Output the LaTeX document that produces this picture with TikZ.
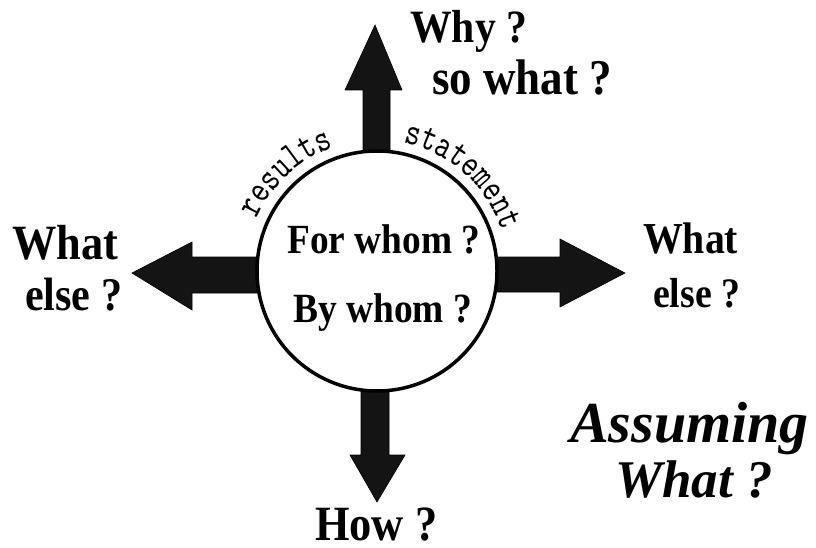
\documentclass[tikz,border=0pt]{standalone}
\usepackage{fontspec}
\setmainfont[FakeStretch=0.9]{Liberation Serif}
\newfontfamily\plainserif{Liberation Serif}
\newfontfamily\curvemono[FakeStretch=0.75,Extension=.otf]{lmmono10-regular}
\usetikzlibrary{decorations.text}
\newcommand\curvefont{\curvemono\fontsize{39}{39}\selectfont}
\newcommand\fs[1]{\fontsize{#1}{#1}\selectfont}
\tikzset{
  lbl/.style={inner sep=0pt, anchor=base west},
  bigarrow/.style={fill=black!92, draw=black, line width=0.6pt},
  ring/.style={draw, circle, minimum size=240pt, line width=3.5pt, fill=white, inner sep=0pt},
  curved/.style={decorate, decoration={text along path, text align=center, text={|\curvefont|#1}}}
}
\begin{document}
\begin{tikzpicture}[x=1pt,y=1pt]
\useasboundingbox (0,0) rectangle (816,547);
\coordinate (c) at (377,276);
% arrows
\path[bigarrow] (363,276) -- (363,457) -- (345,457) -- (375,522) -- (402,457) -- (390,457) -- (390,276) -- cycle;
\path[bigarrow] (361,276) -- (361,92) -- (350,92) -- (377,45) -- (405,92) -- (389,92) -- (389,276) -- cycle;
\path[bigarrow] (377,290) -- (192,290) -- (192,305) -- (132,274) -- (192,237) -- (192,254) -- (377,254) -- cycle;
\path[bigarrow] (377,290) -- (560,290) -- (560,308) -- (625,274) -- (560,240) -- (560,255) -- (377,255) -- cycle;
% circle
\node[ring] (circ) at (c) {};
% curved labels
\path[curved={results}]
  ([shift={(c)}]173:131) arc[start angle=173, end angle=93, radius=131];
\path[curved={statement}]
  ([shift={(c)}]88:131) arc[start angle=88, end angle=8, radius=131];
% inner texts
\node[lbl, font=\bfseries\fs{41.5}] (for) at (287,294) {For whom ?};
\node[lbl, font=\bfseries\fs{41.6}] (by) at (293,225) {By whom ?};
% outer texts
\node[lbl, font=\bfseries\fs{46.3}] (why) at (410,504) {Why ?};
\node[lbl, font=\bfseries\fs{50}] (sowhat) at (432,452) {so what ?};
\node[lbl, font=\bfseries\fs{49.3}] (lwhat) at (12,288) {What};
\node[lbl, font=\bfseries\fs{46.8}] (lelse) at (25,237) {else ?};
\node[lbl, font=\bfseries\fs{44.2}] (rwhat) at (643,294) {What};
\node[lbl, font=\bfseries\fs{42}] (relse) at (653,240) {else ?};
\node[lbl, font=\bfseries\fs{49.3}] (how) at (315,7) {How ?};
\node[lbl, font=\plainserif\bfseries\itshape\fs{58}] (assum) at (570,105) {Assuming};
\node[lbl, font=\plainserif\bfseries\itshape\fs{53}] (whatq) at (615,50) {What ?};
\end{tikzpicture}
\end{document}
